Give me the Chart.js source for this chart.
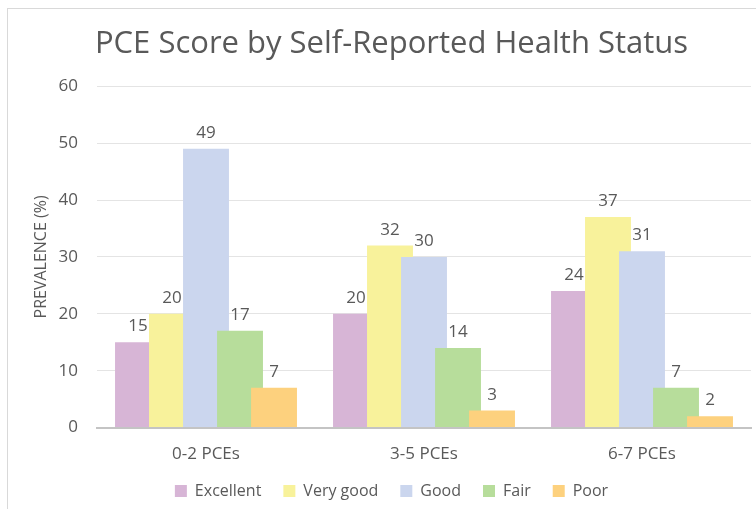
<!DOCTYPE html>
<html>
<head>
<meta charset="utf-8">
<script src="https://cdn.jsdelivr.net/npm/chart.js@4"></script>
<style>
    body { margin: 0; background: #fff; }
    #wrap { position: relative; width: 756px; height: 509px; overflow: hidden; }
    #frame { position: absolute; left: 7px; top: 8px; right: 0; bottom: 0; border-left: 1px solid #d9d9d9; border-top: 1px solid #d9d9d9; pointer-events: none; }
    canvas { position: absolute; left: 0; top: 0; }
</style>
</head>
<body>
<div id="wrap">
    <canvas id="pceChart" width="756" height="509"></canvas>
    <div id="frame"></div>
</div>
<script>
const categories = ['0-2 PCEs', '3-5 PCEs', '6-7 PCEs'];
const excellent = [15, 20, 24];
const veryGood = [20, 32, 37];
const good = [49, 30, 31];
const fair = [17, 14, 7];
const poor = [7, 3, 2];
const yTicks = [0, 10, 20, 30, 40, 50, 60];

const textColor = '#595959';
const fontFamily = '"Open Sans", sans-serif';

// Excel-style overlap: later series sit on top of earlier ones
const drawInSeriesOrder = {
    id: 'drawInSeriesOrder',
    beforeDatasetsDraw(chart) {
        chart.data.datasets.forEach((ds, i) => {
            if (chart.isDatasetVisible(i)) chart.getDatasetMeta(i).controller.draw();
        });
        return false;
    }
};

// legend sits closer to the axis labels than the layout would put it
const legendNudge = {
    id: 'legendNudge',
    afterLayout(chart) {
        if (!chart.legend) return;
        chart.legend.top -= 11;
        chart.legend.bottom -= 11;
    }
};

const valueLabels = {
    id: 'valueLabels',
    afterDraw(chart) {
        const ctx = chart.ctx;
        ctx.save();
        ctx.font = `17px ${fontFamily}`;
        ctx.fillStyle = textColor;
        ctx.textAlign = 'center';
        ctx.textBaseline = 'alphabetic';
        chart.data.datasets.forEach((ds, i) => {
            if (!chart.isDatasetVisible(i)) return;
            chart.getDatasetMeta(i).data.forEach((bar, j) => {
                ctx.fillText(ds.data[j], bar.x, bar.y - 11);
            });
        });
        ctx.restore();
    }
};

new Chart(document.getElementById('pceChart'), {
    type: 'bar',
    data: {
        labels: categories,
        datasets: [
            { label: 'Excellent', data: excellent, backgroundColor: '#d7b5d6' },
            { label: 'Very good', data: veryGood, backgroundColor: '#f8f29b' },
            { label: 'Good', data: good, backgroundColor: '#cbd6ee' },
            { label: 'Fair', data: fair, backgroundColor: '#b7dd9b' },
            { label: 'Poor', data: poor, backgroundColor: '#fdd17e' }
        ]
    },
    options: {
        responsive: false,
        animation: false,
        devicePixelRatio: 1,
        categoryPercentage: 0.78,
        barPercentage: 1.35,
        layout: { padding: { left: 32, right: 5, top: 0, bottom: -11 } },
        plugins: {
            title: {
                display: true,
                text: 'PCE Score by Self-Reported Health Status',
                color: textColor,
                font: { family: fontFamily, size: 31, weight: 'normal' },
                padding: { top: 26, bottom: 23 }
            },
            legend: {
                position: 'bottom',
                labels: {
                    color: textColor,
                    font: { family: fontFamily, size: 16 },
                    boxWidth: 12,
                    boxHeight: 12,
                    padding: 22
                }
            },
            tooltip: { enabled: false }
        },
        scales: {
            x: {
                grid: { display: false },
                border: { color: '#c4c4c4', width: 2 },
                ticks: { color: textColor, font: { family: fontFamily, size: 17 }, padding: 8 }
            },
            y: {
                min: 0,
                max: 60,
                afterBuildTicks: scale => { scale.ticks = yTicks.map(v => ({ value: v })); },
                grid: { color: '#e4e4e4', drawTicks: false },
                border: { display: false },
                ticks: { color: textColor, font: { family: fontFamily, size: 17 }, padding: 19 },
                title: {
                    display: true,
                    text: 'PREVALENCE (%)',
                    color: textColor,
                    font: { family: fontFamily, size: 16 },
                    padding: 0
                },
                afterFit: scale => { scale.width = 65; }
            }
        }
    },
    plugins: [drawInSeriesOrder, legendNudge, valueLabels]
});
</script>
</body>
</html>
